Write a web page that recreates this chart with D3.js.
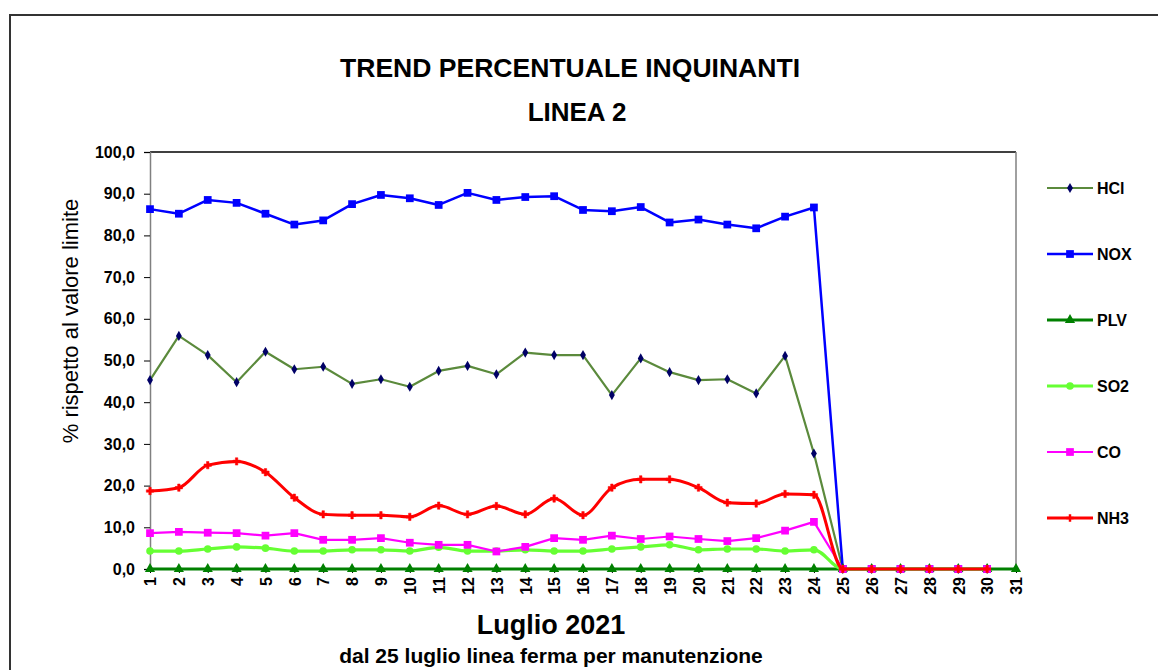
<!DOCTYPE html>
<meta charset="utf-8">
<title>Trend percentuale inquinanti</title>
<style>
  body { margin: 0; background: #fff; }
  text { font-family: "Liberation Sans", Arial, sans-serif; }
</style>
<body>
<svg id="chart" width="1158" height="670"></svg>
<script src="https://cdn.jsdelivr.net/npm/d3@7"></script>
<script>

// giorni di luglio
var days = ["1","2","3","4","5","6","7","8","9","10","11","12","13","14","15","16",
            "17","18","19","20","21","22","23","24","25","26","27","28","29","30","31"];

// valori % rispetto al limite (null = nessun dato)
var hcl = [45.3,55.9,51.3,44.8,52.1,47.9,48.5,44.4,45.5,43.7,47.5,48.7,46.7,51.9,51.3,51.3,
           41.7,50.5,47.2,45.3,45.5,42.1,51.1,27.7,0,0,0,0,0,0,null];
var nox = [86.3,85.2,88.5,87.8,85.2,82.6,83.6,87.5,89.7,88.9,87.3,90.2,88.5,89.2,89.4,86.1,
           85.8,86.8,83.1,83.8,82.6,81.7,84.5,86.7,0,0,0,0,0,0,null];
var plv = [0,0,0,0,0,0,0,0,0,0,0,0,0,0,0,0,0,0,0,0,0,0,0,0,0,0,0,0,0,0,0];
var so2 = [4.3,4.3,4.8,5.3,5.0,4.3,4.3,4.6,4.6,4.3,5.2,4.3,4.3,4.6,4.3,4.3,
           4.8,5.3,5.8,4.6,4.8,4.8,4.3,4.6,0,0,0,0,0,0,null];
var co  = [8.6,8.9,8.7,8.6,8.0,8.6,7.0,7.0,7.4,6.3,5.8,5.8,4.2,5.3,7.4,7.0,
           8.0,7.2,7.8,7.2,6.7,7.4,9.2,11.3,0,0,0,0,0,0,null];
var nh3 = [18.7,19.5,24.9,25.8,23.2,17.1,13.1,12.9,12.9,12.5,15.2,13.1,15.1,13.1,16.9,12.9,
           19.5,21.5,21.5,19.5,15.9,15.7,18.0,17.8,0,0,0,0,0,0,null];

var yTicks = [0,10,20,30,40,50,60,70,80,90,100];

var series = [
  {name: "HCl", values: hcl, color: "#5b8a3c", mark: "#000066", sym: d3.symbolDiamond, size: 30, width: 2.2, smooth: false},
  {name: "NOX", values: nox, color: "#0000ff", mark: "#0000ff", sym: d3.symbolSquare, size: 60, width: 2.5, smooth: false},
  {name: "PLV", values: plv, color: "#008000", mark: "#008000", sym: d3.symbolTriangle, size: 45, width: 3, smooth: false},
  {name: "SO2", values: so2, color: "#66ff33", mark: "#66ff33", sym: d3.symbolCircle, size: 45, width: 3.2, smooth: true},
  {name: "CO",  values: co,  color: "#ff00ff", mark: "#ff00ff", sym: d3.symbolSquare, size: 60, width: 2.2, smooth: false},
  {name: "NH3", values: nh3, color: "#ff0000", mark: "#ff0000", sym: d3.symbolCross, size: 30, width: 3, smooth: true}
];

var svg = d3.select("#chart");

// cornice del grafico
svg.append("rect")
    .attr("x", 10).attr("y", 15)
    .attr("width", 1170).attr("height", 680)
    .attr("fill", "none")
    .attr("stroke", "#333")
    .attr("stroke-width", 2);

var x = d3.scalePoint().domain(days).range([150, 1016]);
var y = d3.scaleLinear().domain([0, 100]).range([569, 152]);

// bordo area del grafico
svg.append("line")
    .attr("x1", 150).attr("x2", 1016).attr("y1", 152).attr("y2", 152)
    .attr("stroke", "#000").attr("stroke-width", 1.5);
svg.append("line")
    .attr("x1", 1016).attr("x2", 1016).attr("y1", 152).attr("y2", 569)
    .attr("stroke", "#808080").attr("stroke-width", 1.5);

// asse y
var yAxis = svg.append("g")
    .attr("transform", "translate(150,0)")
    .call(d3.axisLeft(y)
      .tickValues(yTicks)
      .tickSize(6)
      .tickPadding(9)
      .tickFormat(function (d) { return d.toFixed(1).replace(".", ","); }));
yAxis.select(".domain").attr("stroke", "#808080").attr("stroke-width", 1.5);
yAxis.selectAll(".tick line").attr("stroke", "#000");
yAxis.selectAll("text")
    .attr("font-size", 16).attr("font-weight", "bold").attr("fill", "#000")
    .attr("font-family", "Liberation Sans, Arial, sans-serif");

// asse x
var xAxis = svg.append("g")
    .attr("transform", "translate(0,569)")
    .call(d3.axisBottom(x).tickSize(4).tickSizeOuter(0));
xAxis.select(".domain").remove();
xAxis.selectAll(".tick line").attr("stroke", "#000");
xAxis.selectAll("text")
    .attr("transform", "rotate(-90)")
    .attr("x", -8)
    .attr("y", 0)
    .attr("dy", "0.36em")
    .attr("text-anchor", "end")
    .attr("font-size", 16).attr("font-weight", "bold").attr("fill", "#000")
    .attr("font-family", "Liberation Sans, Arial, sans-serif");

// serie
series.forEach(function (s) {
  var line = d3.line()
      .defined(function (d) { return d != null; })
      .x(function (d, i) { return x(days[i]); })
      .y(function (d) { return y(d); })
      .curve(s.smooth ? d3.curveMonotoneX : d3.curveLinear);

  svg.append("path")
      .datum(s.values)
      .attr("fill", "none")
      .attr("stroke", s.color)
      .attr("stroke-width", s.width)
      .attr("stroke-linejoin", "round")
      .attr("d", line);

  var sym = d3.symbol().type(s.sym).size(s.size);
  svg.append("g").selectAll("path")
    .data(s.values.map(function (v, i) { return {v: v, day: days[i]}; })
      .filter(function (d) { return d.v != null; }))
    .enter().append("path")
      .attr("transform", function (d) { return "translate(" + x(d.day) + "," + y(d.v) + ")"; })
      .attr("d", sym)
      .attr("fill", s.mark)
      .attr("stroke", s.name == "NH3" ? s.mark : "none")
      .attr("stroke-width", 0.5);
});

// legenda
var legend = svg.append("g").attr("transform", "translate(1047,188)");
var item = legend.selectAll("g")
    .data(series)
    .enter().append("g")
      .attr("transform", function (d, i) { return "translate(0," + (i * 66) + ")"; });
item.append("line")
    .attr("x1", 0).attr("x2", 46)
    .attr("stroke", function (d) { return d.color; })
    .attr("stroke-width", function (d) { return d.width; });
item.append("path")
    .attr("transform", "translate(23,0)")
    .attr("d", function (d) { return d3.symbol().type(d.sym).size(d.size)(); })
    .attr("fill", function (d) { return d.mark; });
item.append("text")
    .attr("x", 50).attr("dy", "0.36em")
    .attr("font-size", 16).attr("font-weight", "bold")
    .text(function (d) { return d.name; });

// titoli
svg.append("text")
    .attr("x", 570).attr("y", 77)
    .attr("text-anchor", "middle")
    .attr("font-size", 26).attr("font-weight", "bold")
    .attr("textLength", 460).attr("lengthAdjust", "spacingAndGlyphs")
    .text("TREND PERCENTUALE  INQUINANTI");
svg.append("text")
    .attr("x", 577).attr("y", 121)
    .attr("text-anchor", "middle")
    .attr("font-size", 26).attr("font-weight", "bold")
    .text("LINEA 2");

svg.append("text")
    .attr("transform", "translate(78,321) rotate(-90)")
    .attr("text-anchor", "middle")
    .attr("font-size", 22)
    .text("% rispetto al valore limite");

svg.append("text")
    .attr("x", 551).attr("y", 634)
    .attr("text-anchor", "middle")
    .attr("font-size", 27).attr("font-weight", "bold")
    .text("Luglio 2021");
svg.append("text")
    .attr("x", 551).attr("y", 663)
    .attr("text-anchor", "middle")
    .attr("font-size", 21).attr("font-weight", "bold")
    .text("dal 25 luglio linea ferma per manutenzione");

</script>
</body>
